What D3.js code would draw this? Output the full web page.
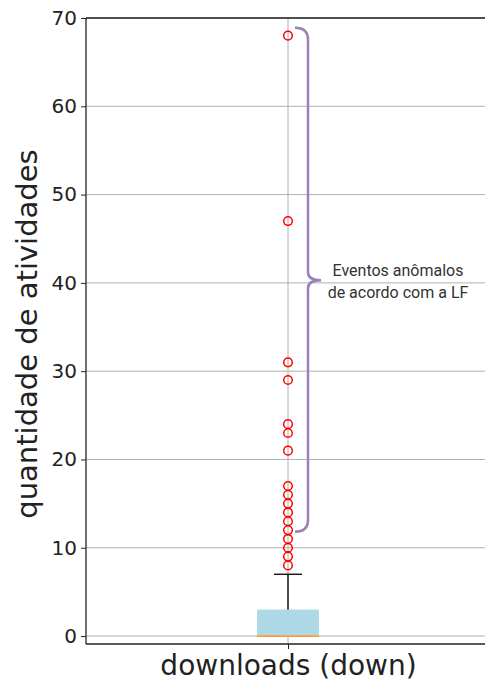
<!DOCTYPE html>
<html><head><meta charset="utf-8">
<script src="https://cdn.jsdelivr.net/npm/d3@7"></script>
<style>
html,body{margin:0;padding:0;background:#fff;}
svg{display:block;}
</style></head>
<body>
<svg id="chart" width="485" height="684"></svg>
<script>
// ---- data ----
const categories = ["downloads (down)"];
const boxStats = [0, 0, 0, 3, 7];            // whisker low, q1, median, q3, whisker high
const outliers = [68, 47, 31, 29, 24, 23, 21, 17, 16, 15, 14, 13, 12, 11, 10, 9, 8];
const yTicks = [0, 10, 20, 30, 40, 50, 60, 70];
const yDomain = [-0.9, 70];
const braceValues = [68.9, 40.3, 11.8];      // top, tip, bottom
const annotationLines = ["Eventos anômalos", "de acordo com a LF"];
const yLabel = "quantidade de atividades";

const svg = d3.select("#chart");
const M = {left: 86, right: 490, top: 18, bottom: 644};

const y = d3.scaleLinear().domain(yDomain).range([M.bottom, M.top]);
const x = d3.scalePoint().domain(categories).range([M.left, M.right]).padding(0.5);

// grid
svg.append("g").selectAll("line").data(yTicks).join("line")
  .attr("x1", M.left).attr("x2", M.right)
  .attr("y1", d => y(d)).attr("y2", d => y(d))
  .attr("stroke", "#b0b0b0").attr("stroke-width", 1);
svg.append("g").selectAll("line").data(categories).join("line")
  .attr("x1", d => x(d)).attr("x2", d => x(d))
  .attr("y1", M.top).attr("y2", M.bottom)
  .attr("stroke", "#b0b0b0").attr("stroke-width", 1);

// box
const cx = x(categories[0]);
const bw = 62;
svg.append("rect")
  .attr("x", cx - bw/2).attr("width", bw)
  .attr("y", y(boxStats[3])).attr("height", y(boxStats[1]) - y(boxStats[3]))
  .attr("fill", "#add8e6");
svg.append("line")
  .attr("x1", cx - bw/2).attr("x2", cx + bw/2)
  .attr("y1", y(boxStats[2])).attr("y2", y(boxStats[2]))
  .attr("stroke", "#ff9a3c").attr("stroke-width", 1.8);
// whisker
svg.append("line")
  .attr("x1", cx).attr("x2", cx)
  .attr("y1", y(boxStats[3])).attr("y2", y(boxStats[4]))
  .attr("stroke", "#000").attr("stroke-width", 1.3);
svg.append("line")
  .attr("x1", cx - 14).attr("x2", cx + 14)
  .attr("y1", y(boxStats[4])).attr("y2", y(boxStats[4]))
  .attr("stroke", "#000").attr("stroke-width", 1.3);

// outliers
svg.append("g").selectAll("circle").data(outliers).join("circle")
  .attr("cx", cx).attr("cy", d => y(d)).attr("r", 4.3)
  .attr("fill", "none").attr("stroke", "#ff0000").attr("stroke-width", 1.5);

// axes
const yAxis = d3.axisLeft(y).tickValues(yTicks).tickSize(5).tickPadding(4);
const gy = svg.append("g").attr("transform", `translate(${M.left},0)`).call(yAxis);
gy.select(".domain").remove();
gy.selectAll("text").attr("font-family", "DejaVu Sans").attr("font-size", 20).attr("fill", "#222");
gy.selectAll("line").attr("stroke", "#222");

const xAxis = d3.axisBottom(x).tickSize(5).tickPadding(6);
const gx = svg.append("g").attr("transform", `translate(0,${M.bottom})`).call(xAxis);
gx.select(".domain").remove();
gx.selectAll("text").attr("font-family", "DejaVu Sans").attr("font-size", 28).attr("fill", "#222").attr("dy", "0.72em");
gx.selectAll("line").attr("stroke", "#222");

// spines
svg.append("line").attr("x1", M.left).attr("x2", M.left).attr("y1", M.top).attr("y2", M.bottom).attr("stroke", "#222").attr("stroke-width", 1.3);
svg.append("line").attr("x1", M.left).attr("x2", M.right).attr("y1", M.bottom).attr("y2", M.bottom).attr("stroke", "#222").attr("stroke-width", 1.3);
svg.append("line").attr("x1", M.left).attr("x2", M.right).attr("y1", M.top).attr("y2", M.top).attr("stroke", "#222").attr("stroke-width", 1.3);

// y label
svg.append("text")
  .attr("transform", `translate(37,334) rotate(-90)`)
  .attr("text-anchor", "middle")
  .attr("font-family", "DejaVu Sans").attr("font-size", 29).attr("fill", "#222")
  .text(yLabel);

// brace
const yT = y(braceValues[0]), yM = y(braceValues[1]), yB = y(braceValues[2]);
const bx0 = cx + 7, bx1 = cx + 20, bx2 = cx + 33;
const p = d3.path();
p.moveTo(bx0, yT);
p.quadraticCurveTo(bx1, yT, bx1, yT + 12);
p.lineTo(bx1, yM - 8);
p.quadraticCurveTo(bx1, yM, bx2, yM);
p.quadraticCurveTo(bx1, yM, bx1, yM + 8);
p.lineTo(bx1, yB - 12);
p.quadraticCurveTo(bx1, yB, bx0, yB);
svg.append("path").attr("d", p.toString())
  .attr("fill", "none").attr("stroke", "#9b7fb8").attr("stroke-width", 2.5);

// annotation
svg.append("g").selectAll("text").data(annotationLines).join("text")
  .attr("x", 398).attr("y", (d, i) => yM - 4 + i * 22)
  .attr("text-anchor", "middle")
  .attr("font-family", "Roboto").attr("font-size", 16).attr("fill", "#333")
  .text(d => d);
</script>
</body></html>
